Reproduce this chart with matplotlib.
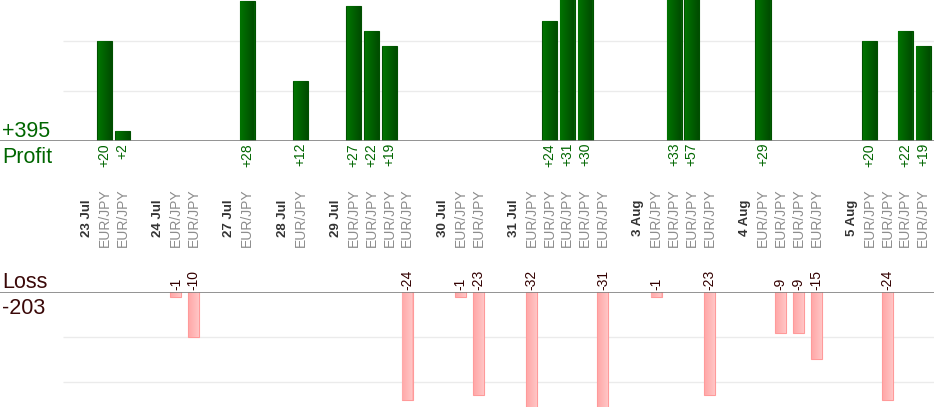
import numpy as np
import matplotlib
matplotlib.use("Agg")
import matplotlib.pyplot as plt
from matplotlib.transforms import blended_transform_factory
from matplotlib.colors import LinearSegmentedColormap

plt.rcParams['font.family'] = ['Liberation Sans', 'DejaVu Sans']

# trading days and how many EUR/JPY trades each had
dates = ["23 Jul", "24 Jul", "27 Jul", "28 Jul", "29 Jul",
         "30 Jul", "31 Jul", "3 Aug", "4 Aug", "5 Aug"]
trades_per_day = [2, 2, 1, 1, 4, 2, 5, 4, 4, 4]
pair = "EUR/JPY"
# result of every trade, in order
results = [20, 2, -1, -10, 28, 12, 27, 22, 19, -24, -1, -23,
           -32, 24, 31, 30, -31, -1, 33, 57, -23, 29, -9, -9, -15,
           20, -24, 22, 19]

W, H = 934, 420
fig = plt.figure(figsize=(W / 100, H / 100), dpi=100)

# slot layout: date label, its trades, then one empty slot
date_pos = []
trade_pos = []
slot = 0
for n in trades_per_day:
    date_pos.append(slot)
    trade_pos.extend(range(slot + 1, slot + 1 + n))
    slot += n + 2
trade_pos = np.array(trade_pos)
res = np.array(results)

x0_px, step_px = 87, 17.79
xmin = -x0_px / step_px
xmax = (W - x0_px) / step_px
grid_start = (63 - x0_px) / step_px

# profit axes: top of figure down to baseline at 141px
ax_p = fig.add_axes([0, 1 - 141 / H, 1, 141 / H])
# loss axes: baseline at 292px down to 407px
ax_l = fig.add_axes([0, 1 - 407 / H, 1, (407 - 292.3) / H])

green_cm = LinearSegmentedColormap.from_list("g", ["#007400", "#004c00"])
pink_cm = LinearSegmentedColormap.from_list("p", ["#ffa8a8", "#ffc6c6"])
grad = np.linspace(0, 1, 32).reshape(1, -1)

def gradient_bars(ax, bars, cmap, lo, hi):
    # fill each bar with a left-to-right gradient, kept inside the axes
    for b in bars:
        x, y = b.get_x(), b.get_y()
        w, h = b.get_width(), b.get_height()
        y1, y2 = max(min(y, y + h), lo), min(max(y, y + h), hi)
        ax.imshow(grad, cmap=cmap, aspect="auto", interpolation="bicubic",
                  extent=[x + 0.04, x + w - 0.04, y1, y2], zorder=2.5)

win = res > 0
bars_p = ax_p.bar(trade_pos[win], res[win], width=0.85, color="#005e00",
                  edgecolor="#005000", linewidth=0.8, zorder=2)
ax_p.set_ylim(0, 28.2)
gradient_bars(ax_p, bars_p, green_cm, 0, 28.2)
ax_p.hlines([10, 20], grid_start, xmax, color="#ebebeb", linewidth=1, zorder=1)
ax_p.axhline(0, color="#808080", linewidth=1.2, zorder=3)

lose = res < 0
bars_l = ax_l.bar(trade_pos[lose], res[lose], width=0.62, color="#ffb4b4",
                  edgecolor="#ff9a9a", linewidth=0.8, zorder=2)
ax_l.set_ylim(-25.65, 0)
gradient_bars(ax_l, bars_l, pink_cm, -25.65, 0)
ax_l.hlines([-10, -20], grid_start, xmax, color="#ebebeb", linewidth=1, zorder=1)
ax_l.axhline(0, color="#808080", linewidth=1.2, zorder=3)

for ax in (ax_p, ax_l):
    ax.set_xlim(xmin, xmax)
    ax.axis("off")
ax_p.set_ylim(0, 28.2)
ax_l.set_ylim(-25.65, 0)

tr = blended_transform_factory(ax_p.transData, fig.transFigure)

# value labels
for x, v in zip(trade_pos[win], res[win]):
    ax_p.text(x, 1 - 143 / H, f"+{v}", rotation=90, ha="center", va="top",
              fontsize=10, color="#006600", transform=tr)
for x, v in zip(trade_pos[lose], res[lose]):
    ax_p.text(x, 1 - 290.5 / H, f"{v}", rotation=90, ha="center", va="bottom",
              fontsize=10, color="#330000", transform=tr, clip_on=False)

# category labels
for x, d in zip(date_pos, dates):
    ax_p.text(x, 1 - 218 / H, d, rotation=90, ha="center", va="center",
              fontsize=9.5, fontweight="bold", color="#333333", transform=tr)
for x in trade_pos:
    ax_p.text(x, 1 - 218 / H, pair, rotation=90, ha="center", va="center",
              fontsize=10, color="#8c8c8c", transform=tr)

# totals on the left
fig.text(2 / W, 1 - 137 / H, f"+{res[win].sum()}", fontsize=15.5,
         color="#006600", va="baseline")
fig.text(2 / W, 1 - 163 / H, "Profit", fontsize=15.5, color="#006600",
         va="baseline")
fig.text(2 / W, 1 - 288 / H, "Loss", fontsize=15.5, color="#3a0808",
         va="baseline")
fig.text(2 / W, 1 - 314 / H, f"{res[lose].sum()}", fontsize=15.5,
         color="#3a0808", va="baseline")

fig.savefig("out.png", dpi=100)
